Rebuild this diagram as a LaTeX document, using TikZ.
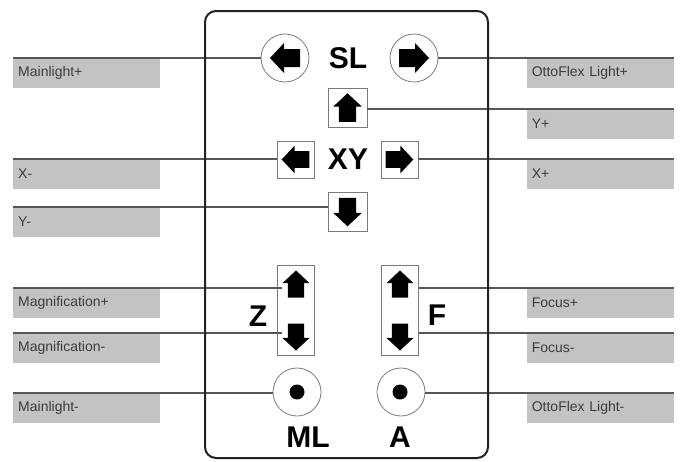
\documentclass[tikz,border=0pt]{standalone}
\usepackage{fontspec}
\setmainfont{Liberation Sans}
\definecolor{labelgrey}{HTML}{C3C3C3}
\definecolor{leadgrey}{HTML}{575757}
\definecolor{labeltext}{HTML}{3C3C3C}
\definecolor{rimgrey}{HTML}{7A7A7A}
\definecolor{casing}{HTML}{222222}

\tikzset{
  lbl/.style={fill=labelgrey, minimum height=29.5pt, text width=137pt,
    inner xsep=5pt, inner ysep=0pt, align=left,
    font=\fontsize{14}{14}\selectfont, text=labeltext},
  lbll/.style={lbl, anchor=north west},
  lblr/.style={lbl, anchor=north east},
  lead/.style={draw=leadgrey, line width=1.6pt},
  rimcircle/.style={circle, draw=rimgrey, line width=0.8pt, minimum size=48pt, inner sep=0pt},
  keybox/.style={rectangle, draw=rimgrey, line width=0.9pt, inner sep=0pt},
  tag/.style={font=\fontsize{30}{30}\selectfont\bfseries, text=black, inner sep=0pt},
  spot/.style={circle, fill=black, minimum size=15pt, inner sep=0pt},
  glyph/.style={minimum size=28pt, inner sep=0pt},
}

% solid block arrow: centre node, rotation (0 = up), scale
\newcommand\blockarrow[3]{%
  \fill[black, shift={(#1.center)}, rotate=#2, scale=#3]
    (0pt,15pt) -- (15pt,1pt) -- (9pt,1pt) -- (9pt,-15pt)
    -- (-9pt,-15pt) -- (-9pt,1pt) -- (-15pt,1pt) -- cycle;}

\begin{document}
\begin{tikzpicture}[x=1pt, y=-1pt]
\useasboundingbox (0,0) rectangle (683,461);

% label strips, left column
\node[lbll] (mlplus)  at (13,58)  {Mainlight+};
\node[lbll] (xneg)    at (13,159) {X-};
\node[lbll] (yneg)    at (13,207) {Y-};
\node[lbll] (magplus) at (13,288) {Magnification+};
\node[lbll] (magneg)  at (13,333) {Magnification-};
\node[lbll] (mlneg)   at (13,393) {Mainlight-};

% label strips, right column
\node[lblr] (oflplus) at (674,58)  {OttoFlex Light+};
\node[lblr] (ypos)    at (674,109) {Y+};
\node[lblr] (xpos)    at (674,159) {X+};
\node[lblr] (focplus) at (674,288) {Focus+};
\node[lblr] (focneg)  at (674,333) {Focus-};
\node[lblr] (oflneg)  at (674,393) {OttoFlex Light-};

% keys
\node[rimcircle] (slminus) at (285,58) {};
\node[rimcircle] (slplus)  at (414,58) {};
\node[tag] (sltag) at (348,58) {SL};

\node[keybox, minimum size=39pt] (yup)    at (347.5,107.5) {};
\node[keybox, minimum size=37pt] (xleft)  at (295.5,159.5) {};
\node[keybox, minimum size=37pt] (xright) at (399.5,159.5) {};
\node[tag] (xytag) at (348,159) {XY};
\node[keybox, minimum size=39pt] (ydown)  at (347.5,212) {};

\node[keybox, minimum width=37pt, minimum height=90pt] (zbox) at (296,310.5) {};
\node[keybox, minimum width=37pt, minimum height=90pt] (fbox) at (400,310.5) {};
\node[glyph] (zup)   at (296,284) {};
\node[glyph] (zdown) at (296,337) {};
\node[glyph] (fup)   at (400,284) {};
\node[glyph] (fdown) at (400,337) {};
\node[tag] (ztag) at (258,316) {Z};
\node[tag] (ftag) at (437,315) {F};

\node[rimcircle] (mlkey) at (297,392) {};
\node[rimcircle] (akey)  at (401,392) {};
\node[spot] (mldot) at (mlkey.center) {};
\node[spot] (adot)  at (400,392) {};
\node[tag] (mltag) at (308,437) {ML};
\node[tag] (atag)  at (400,437) {A};

% leader lines
\draw[lead] (mlplus.north west)  -- (mlplus.north west -| slminus.west);
\draw[lead] (xneg.north west)    -- (xneg.north west -| xleft.west);
\draw[lead] (yneg.north west)    -- (yneg.north west -| ydown.west);
\draw[lead] (magplus.north west) -- (magplus.north west -| zup.west);
\draw[lead] (magneg.north west)  -- (magneg.north west -| zdown.west);
\draw[lead] (mlneg.north west)   -- (mlneg.north west -| mlkey.west);

\draw[lead] (slplus.east |- oflplus.north east) -- (oflplus.north east);
\draw[lead] (yup.east |- ypos.north east)       -- (ypos.north east);
\draw[lead] (xright.east |- xpos.north east)    -- (xpos.north east);
\draw[lead] (fbox.east |- focplus.north east)   -- (focplus.north east);
\draw[lead] (fbox.east |- focneg.north east)    -- (focneg.north east);
\draw[lead] (akey.east |- oflneg.north east)    -- (oflneg.north east);

% remote casing
\draw[draw=casing, line width=2pt, rounded corners=11pt] (205,11) rectangle (488,458);

% arrow symbols
\blockarrow{slminus}{90}{1}
\blockarrow{slplus}{-90}{1}
\blockarrow{yup}{0}{0.95}
\blockarrow{xleft}{90}{0.92}
\blockarrow{xright}{-90}{0.92}
\blockarrow{ydown}{180}{0.95}
\blockarrow{zup}{0}{0.9}
\blockarrow{zdown}{180}{0.9}
\blockarrow{fup}{0}{0.9}
\blockarrow{fdown}{180}{0.9}
\end{tikzpicture}
\end{document}
